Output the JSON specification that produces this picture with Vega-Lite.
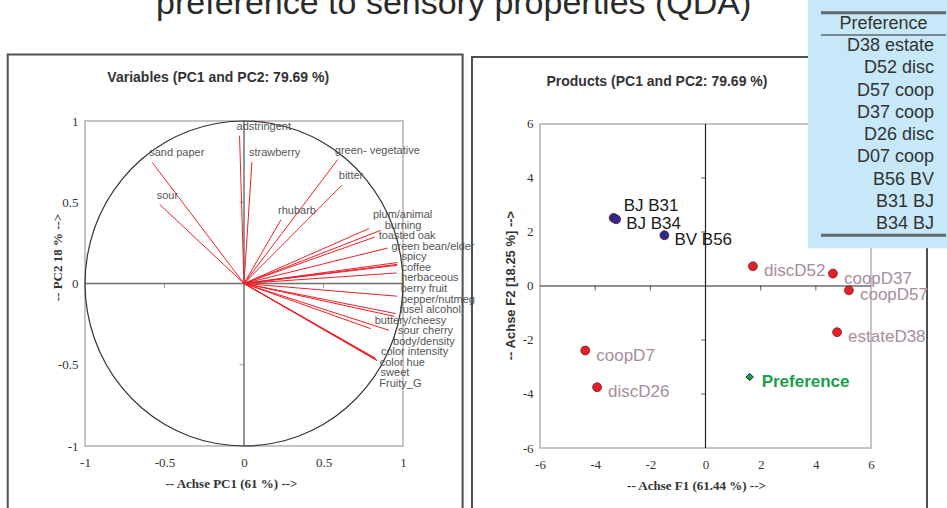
{
  "$schema": "https://vega.github.io/schema/vega-lite/v6.json",
  "background": "#ffffff",
  "padding": {"left": 6, "top": -13, "right": 0, "bottom": 0},
  "config": {
    "view": {"stroke": null},
    "font": "Liberation Sans",
    "axis": {
      "domain": false, "ticks": false, "tickSize": 0, "grid": false,
      "labelFont": "Liberation Serif", "labelFontSize": 13, "labelColor": "#333333",
      "labelFlush": false, "labelOverlap": false,
      "titleColor": "#333333", "titleFontWeight": "bold", "titleBaseline": "middle"
    }
  },
  "bounds": "flush",
  "spacing": 137,
  "datasets": {
    "variables": [
      {"name": "adstringent", "PC1": -0.028, "PC2": 0.91},
      {"name": "strawberry", "PC1": 0.05, "PC2": 0.748},
      {"name": "sand paper", "PC1": -0.577, "PC2": 0.745},
      {"name": "sour", "PC1": -0.53, "PC2": 0.486},
      {"name": "green- vegetative", "PC1": 0.59, "PC2": 0.763},
      {"name": "bitter", "PC1": 0.615, "PC2": 0.604},
      {"name": "rhubarb", "PC1": 0.233, "PC2": 0.393},
      {"name": "plum/animal", "PC1": 0.786, "PC2": 0.338},
      {"name": "burning", "PC1": 0.86, "PC2": 0.327},
      {"name": "toasted oak", "PC1": 0.822, "PC2": 0.286},
      {"name": "green bean/elder", "PC1": 0.902, "PC2": 0.218},
      {"name": "spicy", "PC1": 0.965, "PC2": 0.129},
      {"name": "coffee", "PC1": 0.965, "PC2": 0.118},
      {"name": "herbaceous", "PC1": 0.963, "PC2": 0.112},
      {"name": "berry fruit", "PC1": 0.96, "PC2": 0.065},
      {"name": "pepper/nutmeg", "PC1": 0.962, "PC2": -0.078},
      {"name": "fusel alcohol", "PC1": 0.954, "PC2": -0.185},
      {"name": "buttery/cheesy", "PC1": 0.797, "PC2": -0.278},
      {"name": "sour cherry", "PC1": 0.944, "PC2": -0.202},
      {"name": "body/density", "PC1": 0.912, "PC2": -0.288},
      {"name": "color intensity", "PC1": 0.836, "PC2": -0.474},
      {"name": "color hue", "PC1": 0.828, "PC2": -0.462},
      {"name": "sweet", "PC1": 0.834, "PC2": -0.472},
      {"name": "Fruity_G", "PC1": 0.826, "PC2": -0.46}
    ],
    "unitCircle": [
      {"angle": 0, "PC1": 1, "PC2": 0},
      {"angle": 10, "PC1": 0.9848, "PC2": 0.1736},
      {"angle": 20, "PC1": 0.9397, "PC2": 0.342},
      {"angle": 30, "PC1": 0.866, "PC2": 0.5},
      {"angle": 40, "PC1": 0.766, "PC2": 0.6428},
      {"angle": 50, "PC1": 0.6428, "PC2": 0.766},
      {"angle": 60, "PC1": 0.5, "PC2": 0.866},
      {"angle": 70, "PC1": 0.342, "PC2": 0.9397},
      {"angle": 80, "PC1": 0.1736, "PC2": 0.9848},
      {"angle": 90, "PC1": 0, "PC2": 1},
      {"angle": 100, "PC1": -0.1736, "PC2": 0.9848},
      {"angle": 110, "PC1": -0.342, "PC2": 0.9397},
      {"angle": 120, "PC1": -0.5, "PC2": 0.866},
      {"angle": 130, "PC1": -0.6428, "PC2": 0.766},
      {"angle": 140, "PC1": -0.766, "PC2": 0.6428},
      {"angle": 150, "PC1": -0.866, "PC2": 0.5},
      {"angle": 160, "PC1": -0.9397, "PC2": 0.342},
      {"angle": 170, "PC1": -0.9848, "PC2": 0.1736},
      {"angle": 180, "PC1": -1, "PC2": 0},
      {"angle": 190, "PC1": -0.9848, "PC2": -0.1736},
      {"angle": 200, "PC1": -0.9397, "PC2": -0.342},
      {"angle": 210, "PC1": -0.866, "PC2": -0.5},
      {"angle": 220, "PC1": -0.766, "PC2": -0.6428},
      {"angle": 230, "PC1": -0.6428, "PC2": -0.766},
      {"angle": 240, "PC1": -0.5, "PC2": -0.866},
      {"angle": 250, "PC1": -0.342, "PC2": -0.9397},
      {"angle": 260, "PC1": -0.1736, "PC2": -0.9848},
      {"angle": 270, "PC1": 0, "PC2": -1},
      {"angle": 280, "PC1": 0.1736, "PC2": -0.9848},
      {"angle": 290, "PC1": 0.342, "PC2": -0.9397},
      {"angle": 300, "PC1": 0.5, "PC2": -0.866},
      {"angle": 310, "PC1": 0.6428, "PC2": -0.766},
      {"angle": 320, "PC1": 0.766, "PC2": -0.6428},
      {"angle": 330, "PC1": 0.866, "PC2": -0.5},
      {"angle": 340, "PC1": 0.9397, "PC2": -0.342},
      {"angle": 350, "PC1": 0.9848, "PC2": -0.1736}
    ],
    "loadingTicks": [
      {"PC1": -0.5, "PC2": 0, "along": "PC1"},
      {"PC1": 0.5, "PC2": 0, "along": "PC1"},
      {"PC1": 0, "PC2": 0.5, "along": "PC2"},
      {"PC1": 0, "PC2": -0.5, "along": "PC2"}
    ],
    "products": [
      {"product": "BJ B31", "F1": -3.33, "F2": 2.52, "group": "B"},
      {"product": "BJ B34", "F1": -3.24, "F2": 2.47, "group": "B"},
      {"product": "BV B56", "F1": -1.49, "F2": 1.88, "group": "B"},
      {"product": "discD52", "F1": 1.72, "F2": 0.73, "group": "D"},
      {"product": "coopD37", "F1": 4.62, "F2": 0.46, "group": "D"},
      {"product": "coopD57", "F1": 5.2, "F2": -0.16, "group": "D"},
      {"product": "estateD38", "F1": 4.77, "F2": -1.71, "group": "D"},
      {"product": "coopD7", "F1": -4.36, "F2": -2.39, "group": "D"},
      {"product": "discD26", "F1": -3.93, "F2": -3.75, "group": "D"},
      {"product": "Preference", "F1": 1.6, "F2": -3.37, "group": "Preference"}
    ],
    "scoreTicks": [
      {"F1": -4, "F2": 0, "along": "F1"},
      {"F1": -2, "F2": 0, "along": "F1"},
      {"F1": 2, "F2": 0, "along": "F1"},
      {"F1": 4, "F2": 0, "along": "F1"},
      {"F1": 0, "F2": -4, "along": "F2"},
      {"F1": 0, "F2": -2, "along": "F2"},
      {"F1": 0, "F2": 2, "along": "F2"},
      {"F1": 0, "F2": 4, "along": "F2"}
    ],
    "preferenceRanking": [
      {"rank": 0, "label": "Preference", "column": "Preference"},
      {"rank": 1, "label": "D38 estate", "column": "Preference"},
      {"rank": 2, "label": "D52 disc", "column": "Preference"},
      {"rank": 3, "label": "D57 coop", "column": "Preference"},
      {"rank": 4, "label": "D37 coop", "column": "Preference"},
      {"rank": 5, "label": "D26 disc", "column": "Preference"},
      {"rank": 6, "label": "D07 coop", "column": "Preference"},
      {"rank": 7, "label": "B56 BV", "column": "Preference"},
      {"rank": 8, "label": "B31 BJ", "column": "Preference"},
      {"rank": 9, "label": "B34 BJ", "column": "Preference"}
    ]
  },
  "hconcat": [
    {
      "width": 318,
      "height": 325,
      "layer": [
        {
          "layer": [
            {
              "data": {"values": [{}]},
              "mark": {"type": "text", "text": "preference to sensory properties (QDA)", "fontSize": 34, "color": "#2a2a2a", "align": "center", "baseline": "alphabetic"},
              "encoding": {"x": {"datum": 1.319}, "y": {"datum": 1.658}}
            },
            {
              "data": {"values": [{}]},
              "mark": {"type": "rect", "fill": null, "stroke": "#505050", "strokeWidth": 2},
              "encoding": {"x": {"datum": -1.486}, "x2": {"datum": 1.375}, "y": {"datum": 1.41}, "y2": {"datum": -1.5}}
            },
            {
              "data": {"values": [{}]},
              "mark": {"type": "text", "text": "Variables (PC1 and PC2: 79.69 %)", "fontSize": 14, "fontWeight": "bold", "color": "#333333", "align": "center", "baseline": "middle"},
              "encoding": {"x": {"datum": -0.162}, "y": {"datum": 1.265}}
            },
            {
              "data": {"values": [{}]},
              "mark": {"type": "rect", "fill": null, "stroke": "#b8b0b0", "strokeWidth": 1.5},
              "encoding": {"x": {"datum": -1}, "x2": {"datum": 1}, "y": {"datum": 1}, "y2": {"datum": -1}}
            },
            {
              "data": {"values": [{}]},
              "mark": {"type": "rule", "color": "#707070", "strokeWidth": 1.5},
              "encoding": {"x": {"datum": -1}, "x2": {"datum": 1}, "y": {"datum": 0}}
            },
            {
              "data": {"values": [{}]},
              "mark": {"type": "rule", "color": "#707070", "strokeWidth": 1.5},
              "encoding": {"x": {"datum": 0}, "y": {"datum": -1}, "y2": {"datum": 1}}
            },
            {
              "data": {"name": "unitCircle"},
              "mark": {"type": "line", "interpolate": "cardinal-closed", "color": "#333333", "strokeWidth": 1.2},
              "encoding": {
                "x": {
                  "field": "PC1", "type": "quantitative",
                  "scale": {"domain": [-1, 1], "nice": false, "zero": false},
                  "axis": {
                    "values": [-1, -0.5, 0, 0.5, 1], "labelExpr": "'' + datum.value", "labelPadding": 10,
                    "title": "-- Achse PC1 (61 %) -->", "titleFont": "Liberation Serif", "titleFontSize": 13,
                    "titleX": 146, "titleY": 37
                  }
                },
                "y": {
                  "field": "PC2", "type": "quantitative",
                  "scale": {"domain": [-1, 1], "nice": false, "zero": false},
                  "axis": {
                    "values": [-1, -0.5, 0, 0.5, 1], "labelExpr": "'' + datum.value", "labelPadding": 7,
                    "title": "-- PC2 18 % -->", "titleFont": "Liberation Serif", "titleFontSize": 13,
                    "titleX": -28, "titleY": 136, "titleAngle": 270
                  }
                },
                "order": {"field": "angle", "type": "quantitative"}
              }
            },
            {
              "data": {"name": "loadingTicks"},
              "transform": [{"filter": "datum.along == 'PC1'"}],
              "mark": {"type": "tick", "orient": "vertical", "size": 5, "thickness": 1, "color": "#707070", "yOffset": 2},
              "encoding": {"x": {"field": "PC1", "type": "quantitative"}, "y": {"field": "PC2", "type": "quantitative"}}
            },
            {
              "data": {"name": "loadingTicks"},
              "transform": [{"filter": "datum.along == 'PC2'"}],
              "mark": {"type": "tick", "orient": "horizontal", "size": 5, "thickness": 1, "color": "#707070", "xOffset": -2},
              "encoding": {"x": {"field": "PC1", "type": "quantitative"}, "y": {"field": "PC2", "type": "quantitative"}}
            },
            {
              "data": {"name": "variables"},
              "mark": {"type": "rule", "color": "#ee1f26", "strokeWidth": 1},
              "encoding": {
                "x": {"field": "PC1", "type": "quantitative"}, "y": {"field": "PC2", "type": "quantitative"},
                "x2": {"datum": 0}, "y2": {"datum": 0}
              }
            },
            {
              "data": {"name": "variables"},
              "transform": [{"filter": "datum.PC1 < 0.75"}],
              "mark": {"type": "text", "align": "left", "dx": -3, "dy": -9, "fontSize": 11, "color": "#555555"},
              "encoding": {
                "x": {"field": "PC1", "type": "quantitative"}, "y": {"field": "PC2", "type": "quantitative"},
                "text": {"field": "name"}
              }
            }
          ]
        },
        {
          "data": {"name": "variables"},
          "transform": [{"filter": "datum.PC1 >= 0.75"}],
          "mark": {"type": "text", "align": "left", "dx": 4, "fontSize": 11, "color": "#555555"},
          "encoding": {
            "x": {"field": "PC1", "type": "quantitative"},
            "y": {
              "field": "name", "type": "ordinal", "sort": null, "axis": null,
              "scale": {"type": "point", "range": [94, 263], "padding": 0}
            },
            "text": {"field": "name"}
          }
        }
      ],
      "resolve": {"scale": {"y": "independent"}}
    },
    {
      "width": 331,
      "height": 327,
      "layer": [
        {
          "layer": [
            {
              "data": {"values": [{}]},
              "mark": {"type": "rect", "fill": null, "stroke": "#505050", "strokeWidth": 2},
              "encoding": {"x": {"datum": -8.466}, "x2": {"datum": 8.03}, "y": {"datum": 8.48}, "y2": {"datum": -8.7}}
            },
            {
              "data": {"values": [{}]},
              "mark": {"type": "text", "text": "Products (PC1 and PC2: 79.69 %)", "fontSize": 14, "fontWeight": "bold", "color": "#333333", "align": "center", "baseline": "middle"},
              "encoding": {"x": {"datum": -1.76}, "y": {"datum": 7.57}}
            },
            {
              "data": {"values": [{}]},
              "mark": {"type": "rect", "fill": null, "stroke": "#b8b0b0", "strokeWidth": 1.5},
              "encoding": {"x": {"datum": -6}, "x2": {"datum": 6}, "y": {"datum": 6}, "y2": {"datum": -6}}
            },
            {
              "data": {"values": [{}]},
              "mark": {"type": "rule", "color": "#222222", "strokeWidth": 1.2},
              "encoding": {"x": {"datum": -6}, "x2": {"datum": 6}, "y": {"datum": 0}}
            },
            {
              "data": {"values": [{}]},
              "mark": {"type": "rule", "color": "#222222", "strokeWidth": 1.2},
              "encoding": {"x": {"datum": 0}, "y": {"datum": -6}, "y2": {"datum": 6}}
            },
            {
              "data": {"name": "scoreTicks"},
              "transform": [{"filter": "datum.along == 'F1'"}],
              "mark": {"type": "tick", "orient": "vertical", "size": 5, "thickness": 1, "color": "#222222", "yOffset": 2},
              "encoding": {
                "x": {
                  "field": "F1", "type": "quantitative",
                  "scale": {"domain": [-6, 6], "nice": false, "zero": false},
                  "axis": {
                    "values": [-6, -4, -2, 0, 2, 4, 6], "labelExpr": "'' + datum.value", "labelPadding": 10,
                    "title": "-- Achse F1 (61.44 %) -->", "titleFont": "Liberation Serif", "titleFontSize": 13,
                    "titleX": 156, "titleY": 37
                  }
                },
                "y": {
                  "field": "F2", "type": "quantitative",
                  "scale": {"domain": [-6, 6.111], "nice": false, "zero": false},
                  "axis": {
                    "values": [-6, -4, -2, 0, 2, 4, 6], "labelExpr": "'' + datum.value", "labelPadding": 7,
                    "title": "-- Achse F2 [18.25 %] -->", "titleFont": "Liberation Sans", "titleFontSize": 13,
                    "titleX": -30, "titleY": 164, "titleAngle": 270
                  }
                }
              }
            },
            {
              "data": {"name": "scoreTicks"},
              "transform": [{"filter": "datum.along == 'F2'"}],
              "mark": {"type": "tick", "orient": "horizontal", "size": 5, "thickness": 1, "color": "#222222", "xOffset": -2},
              "encoding": {"x": {"field": "F1", "type": "quantitative"}, "y": {"field": "F2", "type": "quantitative"}}
            },
            {
              "data": {"name": "products"},
              "transform": [{"filter": "datum.group != 'Preference'"}],
              "mark": {"type": "point", "filled": true, "size": 80, "opacity": 1, "stroke": "#6a1414", "strokeWidth": 0.7},
              "encoding": {
                "x": {"field": "F1", "type": "quantitative"}, "y": {"field": "F2", "type": "quantitative"},
                "color": {
                  "field": "group", "type": "nominal", "legend": null,
                  "scale": {"domain": ["B", "D"], "range": ["#2b2a8e", "#e51f27"]}
                }
              }
            },
            {
              "data": {"name": "products"},
              "transform": [{"filter": "datum.group == 'Preference'"}],
              "mark": {"type": "point", "shape": "diamond", "filled": true, "size": 55, "fill": "#1f9a52", "stroke": "#222222", "strokeWidth": 1, "opacity": 1},
              "encoding": {"x": {"field": "F1", "type": "quantitative"}, "y": {"field": "F2", "type": "quantitative"}}
            },
            {
              "data": {"name": "products"},
              "transform": [{"filter": "datum.group == 'B' && datum.product != 'BJ B31'"}],
              "mark": {"type": "text", "align": "left", "dx": 10, "dy": 5, "fontSize": 17, "color": "#1a1a1a"},
              "encoding": {"x": {"field": "F1", "type": "quantitative"}, "y": {"field": "F2", "type": "quantitative"}, "text": {"field": "product"}}
            },
            {
              "data": {"name": "products"},
              "transform": [{"filter": "datum.product == 'BJ B31'"}],
              "mark": {"type": "text", "align": "left", "dx": 10, "dy": -12, "fontSize": 17, "color": "#1a1a1a"},
              "encoding": {"x": {"field": "F1", "type": "quantitative"}, "y": {"field": "F2", "type": "quantitative"}, "text": {"field": "product"}}
            },
            {
              "data": {"name": "products"},
              "transform": [{"filter": "datum.group == 'D'"}],
              "mark": {"type": "text", "align": "left", "dx": 11, "dy": 5, "fontSize": 17, "color": "#a68c9e"},
              "encoding": {"x": {"field": "F1", "type": "quantitative"}, "y": {"field": "F2", "type": "quantitative"}, "text": {"field": "product"}}
            },
            {
              "data": {"name": "products"},
              "transform": [{"filter": "datum.group == 'Preference'"}],
              "mark": {"type": "text", "align": "left", "dx": 12, "dy": 5, "fontSize": 17, "fontWeight": "bold", "color": "#18a048"},
              "encoding": {"x": {"field": "F1", "type": "quantitative"}, "y": {"field": "F2", "type": "quantitative"}, "text": {"field": "product"}}
            }
          ]
        },
        {
          "data": {"name": "preferenceRanking"},
          "encoding": {
            "x": {
              "field": "column", "type": "nominal", "axis": null,
              "scale": {"type": "band", "range": [281, 406], "paddingInner": 0, "paddingOuter": 0}
            },
            "y": {
              "field": "label", "type": "nominal", "sort": null, "axis": null,
              "scale": {"type": "band", "range": [-108.3, 114.2], "paddingInner": 0, "paddingOuter": 0}
            }
          },
          "layer": [
            {
              "mark": {"type": "rect", "fill": "#c6e8f8", "stroke": "#c6e8f8", "strokeWidth": 26}
            },
            {
              "transform": [{"filter": "datum.rank == 0"}],
              "mark": {"type": "tick", "orient": "horizontal", "size": 125, "thickness": 3, "color": "#333333"},
              "encoding": {"y": {"field": "label", "type": "nominal", "sort": null, "bandPosition": 0}}
            },
            {
              "transform": [{"filter": "datum.rank == 0"}],
              "mark": {"type": "tick", "orient": "horizontal", "size": 125, "thickness": 1.5, "color": "#333333"},
              "encoding": {"y": {"field": "label", "type": "nominal", "sort": null, "bandPosition": 1}}
            },
            {
              "transform": [{"filter": "datum.rank == 9"}],
              "mark": {"type": "tick", "orient": "horizontal", "size": 125, "thickness": 3, "color": "#333333"},
              "encoding": {"y": {"field": "label", "type": "nominal", "sort": null, "bandPosition": 1}}
            },
            {
              "transform": [{"filter": "datum.rank == 0"}],
              "mark": {"type": "text", "align": "center", "fontSize": 18, "color": "#333333"},
              "encoding": {"text": {"field": "label"}}
            },
            {
              "transform": [{"filter": "datum.rank > 0"}],
              "mark": {"type": "text", "align": "right", "fontSize": 18, "color": "#333333"},
              "encoding": {
                "x": {"field": "column", "type": "nominal", "bandPosition": 0.904},
                "text": {"field": "label"}
              }
            }
          ]
        }
      ],
      "resolve": {"scale": {"x": "independent", "y": "independent"}}
    }
  ]
}
